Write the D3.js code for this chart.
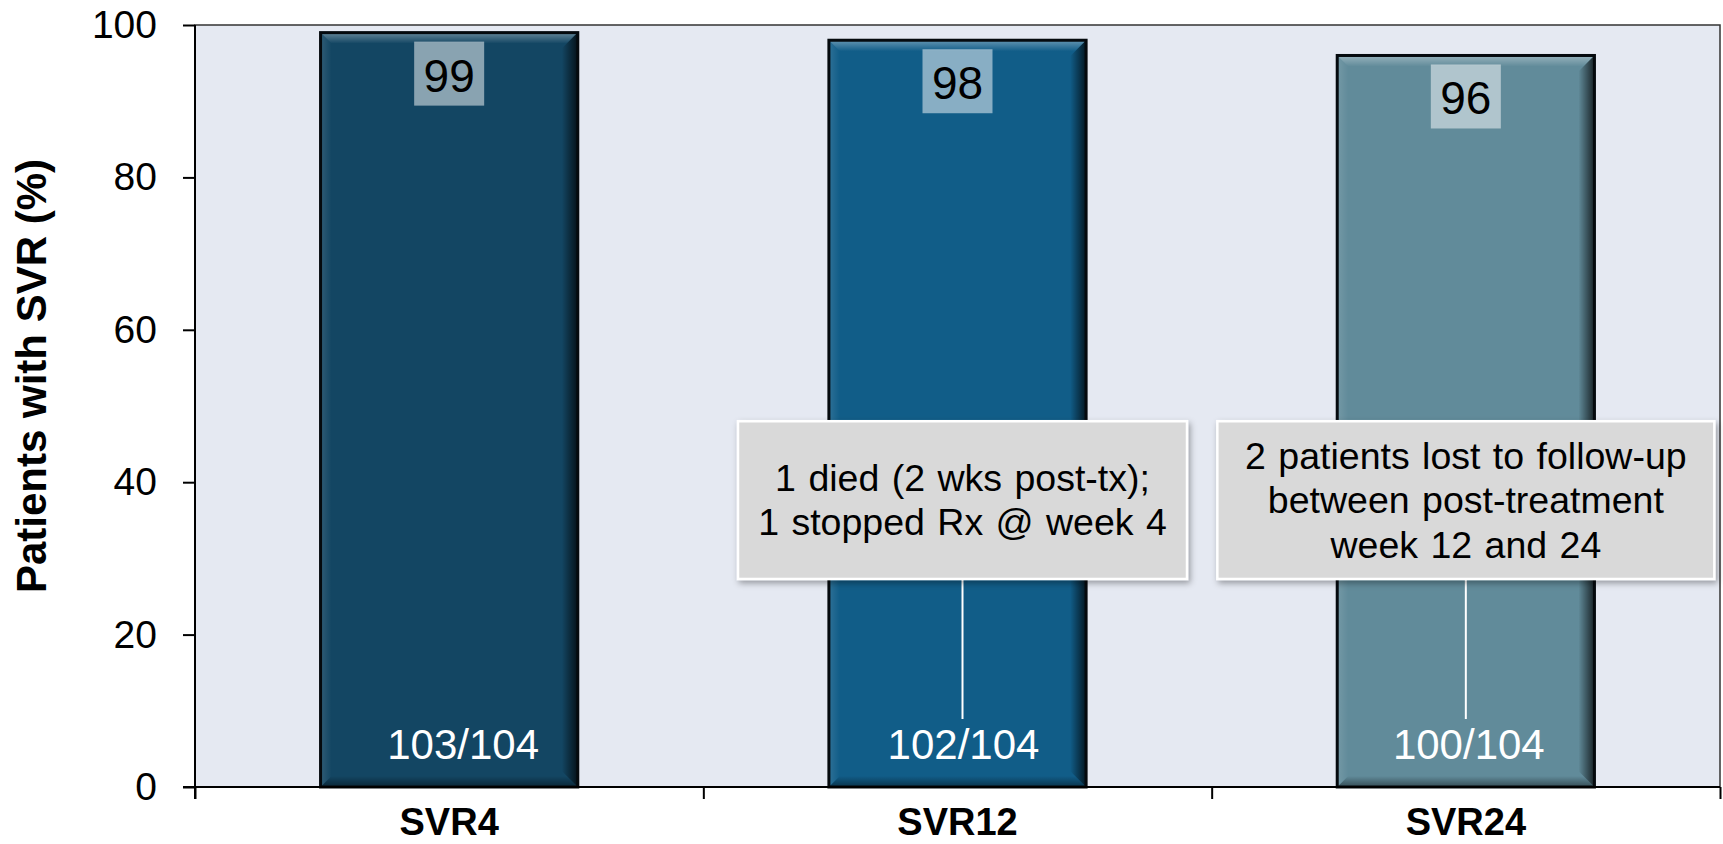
<!DOCTYPE html>
<html>
<head>
<meta charset="utf-8">
<script src="https://cdn.jsdelivr.net/npm/d3@7"></script>
<style>
    body { margin: 0; background: #fff; }
    text { font-family: "Liberation Sans", Arial, sans-serif; }
</style>
</head>
<body>
<script>
//chart data
var categories = ["SVR4", "SVR12", "SVR24"];
var svrValues = [99, 98, 96];
var fractions = ["103/104", "102/104", "100/104"];
var barColors = ["#134663", "#115d88", "#618b9a"];
var yTicks = [0, 20, 40, 60, 80, 100];

//callout notes
var noteCategories = ["SVR12", "SVR24"];
var noteLines = [
    ["1 died (2 wks post-tx);", "1 stopped Rx @ week 4"],
    ["2 patients lost to follow-up", "between post-treatment", "week 12 and 24"]
];

//execute script when window is loaded
window.onload = function(){

    //SVG dimension variables
    var w = 1723, h = 844;
    var left = 195, right = 1720, top = 25, bottom = 787;

    var svg = d3.select("body")
        .append("svg")
        .attr("width", w)
        .attr("height", h);

    var defs = svg.append("defs");

    //bevel gradients
    function grad(id, x1, y1, x2, y2, color, op){
        var g = defs.append("linearGradient").attr("id", id)
            .attr("x1", x1).attr("y1", y1).attr("x2", x2).attr("y2", y2);
        g.append("stop").attr("offset", "0%").attr("stop-color", color).attr("stop-opacity", op);
        g.append("stop").attr("offset", "100%").attr("stop-color", color).attr("stop-opacity", 0);
    }
    grad("bevTop", 0, 0, 0, 1, "#ffffff", 0.35);
    grad("bevRight", 1, 0, 0, 0, "#000000", 0.75);
    grad("bevBottom", 0, 1, 0, 0, "#000000", 0.45);
    grad("bevLeft", 0, 0, 1, 0, "#ffffff", 0.12);

    //drop shadow for the callouts
    defs.append("filter").attr("id", "shadow")
        .attr("x", "-10%").attr("y", "-10%").attr("width", "120%").attr("height", "130%")
        .append("feDropShadow")
        .attr("dx", 2).attr("dy", 3).attr("stdDeviation", 3)
        .attr("flood-color", "#000").attr("flood-opacity", 0.35);

    //scales
    var x = d3.scaleBand()
        .domain(categories)
        .range([left, right])
        .paddingInner(0.494)
        .paddingOuter(0.247);

    var xEdge = d3.scaleLinear()
        .domain([0, categories.length])
        .range([left, right]);

    var y = d3.scaleLinear()
        .domain([0, 100])
        .range([bottom, top]);

    //plot background
    svg.append("rect")
        .attr("x", left)
        .attr("y", top)
        .attr("width", right - left)
        .attr("height", bottom - top)
        .style("fill", "#e5e9f2")
        .style("stroke", "#333")
        .style("stroke-width", 1.5);

    //bars
    var bars = svg.selectAll(".bar")
        .data(svrValues)
        .enter()
        .append("g")
        .attr("class", "bar")
        .attr("transform", function(d, i){
            return "translate(" + x(categories[i]) + "," + y(d) + ")";
        });

    var bw = x.bandwidth(), b = 11;

    bars.append("rect")
        .attr("width", bw)
        .attr("height", function(d){ return y(0) - y(d); })
        .style("fill", function(d, i){ return barColors[i]; });

    bars.append("polygon")
        .attr("points", function(d){
            return [[0, 0], [bw, 0], [bw - b, b], [b, b]].join(" ");
        })
        .style("fill", "url(#bevTop)");

    bars.append("polygon")
        .attr("points", function(d){
            var bh = y(0) - y(d);
            return [[0, 0], [b, b], [b, bh - b], [0, bh]].join(" ");
        })
        .style("fill", "url(#bevLeft)");

    bars.append("polygon")
        .attr("points", function(d){
            var bh = y(0) - y(d);
            return [[bw, 0], [bw, bh], [bw - 16, bh - 16], [bw - 16, 16]].join(" ");
        })
        .style("fill", "url(#bevRight)");

    bars.append("polygon")
        .attr("points", function(d){
            var bh = y(0) - y(d);
            return [[0, bh], [b, bh - b], [bw - b, bh - b], [bw, bh]].join(" ");
        })
        .style("fill", "url(#bevBottom)");

    bars.append("rect")
        .attr("width", bw)
        .attr("height", function(d){ return y(0) - y(d); })
        .style("fill", "none")
        .style("stroke", "#050a0e")
        .style("stroke-width", 3);

    //value labels with light boxes
    bars.append("rect")
        .attr("x", bw / 2 - 35)
        .attr("y", 9)
        .attr("width", 70)
        .attr("height", 64)
        .style("fill", "#ffffff")
        .style("fill-opacity", 0.5);

    bars.append("text")
        .attr("x", bw / 2)
        .attr("y", 59)
        .attr("text-anchor", "middle")
        .style("font-size", "46px")
        .style("fill", "#000")
        .text(function(d){ return d; });

    //fraction labels at bar bottoms
    var fracDx = [14, 6, 3];
    svg.selectAll(".frac")
        .data(fractions)
        .enter()
        .append("text")
        .attr("class", "frac")
        .attr("x", function(d, i){ return x(categories[i]) + bw / 2 + fracDx[i]; })
        .attr("y", y(0) - 28)
        .attr("text-anchor", "middle")
        .style("font-size", "42px")
        .style("fill", "#fff")
        .text(function(d){ return d; });

    //callout connectors and boxes
    var noteWidths = [449, 497];
    var noteDx = [5, 0];
    var notes = svg.selectAll(".note")
        .data(noteLines)
        .enter()
        .append("g")
        .attr("class", "note")
        .attr("transform", function(d, i){
            return "translate(" + (x(noteCategories[i]) + bw / 2 + noteDx[i]) + ",0)";
        });

    notes.append("line")
        .attr("x1", 0).attr("x2", 0)
        .attr("y1", y(27.3))
        .attr("y2", y(0) - 68)
        .style("stroke", "#fff")
        .style("stroke-width", 2);

    notes.append("rect")
        .attr("x", function(d, i){ return -noteWidths[i] / 2; })
        .attr("y", y(48))
        .attr("width", function(d, i){ return noteWidths[i]; })
        .attr("height", y(27.3) - y(48))
        .style("fill", "#d9d9d9")
        .style("stroke", "#fff")
        .style("stroke-width", 2.5)
        .attr("filter", "url(#shadow)");

    var midY = (y(48) + y(27.3)) / 2;
    notes.selectAll(".noteLine")
        .data(function(d){ return d.map(function(t, j){ return {t: t, j: j, n: d.length}; }); })
        .enter()
        .append("text")
        .attr("class", "noteLine")
        .attr("x", 0)
        .attr("y", function(d){ return midY + (d.j - (d.n - 1) / 2) * 44.5 + 13; })
        .attr("text-anchor", "middle")
        .style("font-size", "37.5px")
        .style("word-spacing", "2px")
        .style("fill", "#000")
        .text(function(d){ return d.t; });

    //y axis
    var yAxis = d3.axisLeft(y)
        .tickValues(yTicks)
        .tickSize(12)
        .tickPadding(26);

    svg.append("g")
        .attr("class", "axis")
        .attr("transform", "translate(" + left + ",0)")
        .call(yAxis)
        .call(function(g){
            g.select(".domain").remove();
            g.selectAll("line").style("stroke", "#000").style("stroke-width", 2);
            g.selectAll("text").style("font-size", "39px").style("font-family", "Liberation Sans, Arial, sans-serif").style("fill", "#000");
        });

    //axis lines
    svg.append("line")
        .attr("x1", left).attr("x2", left)
        .attr("y1", top).attr("y2", bottom + 12)
        .style("stroke", "#000").style("stroke-width", 2);

    //x axis with ticks at category edges
    var xAxis = d3.axisBottom(xEdge)
        .tickValues(d3.range(categories.length + 1))
        .tickSize(12)
        .tickFormat("");

    svg.append("g")
        .attr("class", "axis")
        .attr("transform", "translate(0," + bottom + ")")
        .call(xAxis)
        .call(function(g){
            g.select(".domain").attr("d", "M" + (left - 12) + ",0H" + right).style("stroke", "#000").style("stroke-width", 2);
            g.selectAll("line").style("stroke", "#000").style("stroke-width", 2);
        });

    //category labels
    svg.selectAll(".cat")
        .data(categories)
        .enter()
        .append("text")
        .attr("class", "cat")
        .attr("x", function(d){ return x(d) + bw / 2; })
        .attr("y", 835)
        .attr("text-anchor", "middle")
        .style("font-size", "38px")
        .style("font-weight", "bold")
        .text(function(d){ return d; });

    //y axis title
    svg.append("text")
        .attr("transform", "translate(46,376) rotate(-90)")
        .attr("text-anchor", "middle")
        .style("font-size", "42px")
        .style("font-weight", "bold")
        .text("Patients with SVR (%)");
};
</script>
</body>
</html>
